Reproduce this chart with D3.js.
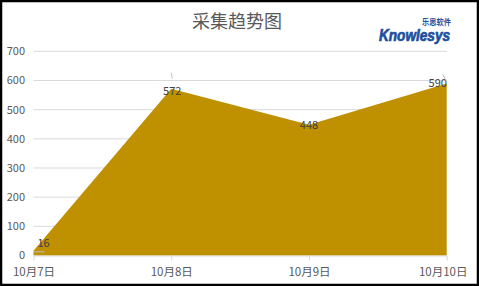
<!DOCTYPE html>
<html><head><meta charset="utf-8">
<script src="https://cdn.jsdelivr.net/npm/d3@7"></script>
<style>body{margin:0;background:#fff}svg{display:block}</style>
</head><body>
<svg id="c" width="479" height="286"></svg>
<script>
const categories = ["10月7日","10月8日","10月9日","10月10日"];
const values = [16, 572, 448, 590];
const yTicks = [0,100,200,300,400,500,600,700];
const title = "采集趋势图";

const W = 479, H = 286;
const svg = d3.select("#c");
svg.append("rect").attr("x",1).attr("y",1).attr("width",W-2).attr("height",H-2)
  .attr("fill","#fff").attr("stroke","#000").attr("stroke-width",2.5);

const x = d3.scalePoint().domain(categories).range([33.5, 446.7]);
const y = d3.scaleLinear().domain([0,700]).range([255.5, 51.3]);
const font = "'Microsoft YaHei','Noto Sans CJK SC','Liberation Sans',sans-serif";

// gridlines
svg.append("g").selectAll("line").data(yTicks.filter(d=>d>0)).join("line")
  .attr("x1",33.5).attr("x2",447).attr("y1",d=>y(d)).attr("y2",d=>y(d))
  .attr("stroke","#d9d9d9").attr("stroke-width",1);

// y labels
svg.append("g").selectAll("text").data(yTicks).join("text")
  .attr("x",25).attr("y",d=>y(d)).attr("dy","0.36em").attr("text-anchor","end")
  .attr("font-family",font).attr("font-size",11).attr("fill","#595959").text(d=>d);

// area
const area = d3.area().x((d,i)=>x(categories[i])).y0(y(0)).y1(d=>y(d));
svg.append("path").datum(values).attr("d",area).attr("fill","#BF9000");

// x axis
const xa = svg.append("g").attr("transform",`translate(0,${y(0)})`)
  .call(d3.axisBottom(x).tickSize(5).tickSizeOuter(0));
xa.select(".domain").attr("stroke","#d9d9d9").attr("d",`M33.5,0.5H447`);
xa.selectAll(".tick line").attr("stroke","#d9d9d9");
xa.selectAll(".tick text").attr("font-family",font).attr("font-size",11.5)
  .attr("fill","#595959").attr("dy","1.05em")
  .attr("transform",(d,i)=> i===categories.length-1 ? "translate(-4,0)" : null);

// data labels
const off = [[10,-8],[1,2],[0,0],[-9,0]];
svg.append("g").selectAll("text").data(values).join("text")
  .attr("x",(d,i)=>x(categories[i])+off[i][0])
  .attr("y",(d,i)=>y(d)+off[i][1]).attr("dy","0.36em").attr("text-anchor","middle")
  .attr("font-family",font).attr("font-size",11).attr("fill","#404040").text(d=>d);

// leader lines
const lead = [[[0,1],[11,1]],[[1,-10],[0,-16]],null,[[0,-2],[-4,-9]]];
lead.forEach((l,i)=>{
  if(!l) return;
  const px = x(categories[i]), py = y(values[i]);
  svg.append("line").attr("x1",px+l[0][0]).attr("y1",py+l[0][1])
    .attr("x2",px+l[1][0]).attr("y2",py+l[1][1])
    .attr("stroke","#bfbfbf").attr("stroke-width",1);
});

// title
svg.append("text").attr("x",237).attr("y",22).attr("dy","0.36em").attr("text-anchor","middle")
  .attr("font-family",font).attr("font-size",18).attr("fill","#595959").text(title);

// logo
svg.append("text").attr("x",379).attr("y",41).attr("font-family","'Liberation Sans',Arial,sans-serif")
  .attr("font-weight","bold").attr("font-style","italic").attr("font-size",16)
  .attr("textLength",71).attr("lengthAdjust","spacingAndGlyphs")
  .attr("fill","#1d4f9e").attr("stroke","#1d4f9e").attr("stroke-width",0.7).text("Knowlesys");
svg.append("text").attr("x",422).attr("y",24.5).attr("font-family","'Noto Sans CJK SC',sans-serif")
  .attr("font-weight","bold").attr("font-size",8.5)
  .attr("textLength",29).attr("lengthAdjust","spacingAndGlyphs")
  .attr("fill","#1d4f9e").text("乐思软件");
</script>
</body></html>
